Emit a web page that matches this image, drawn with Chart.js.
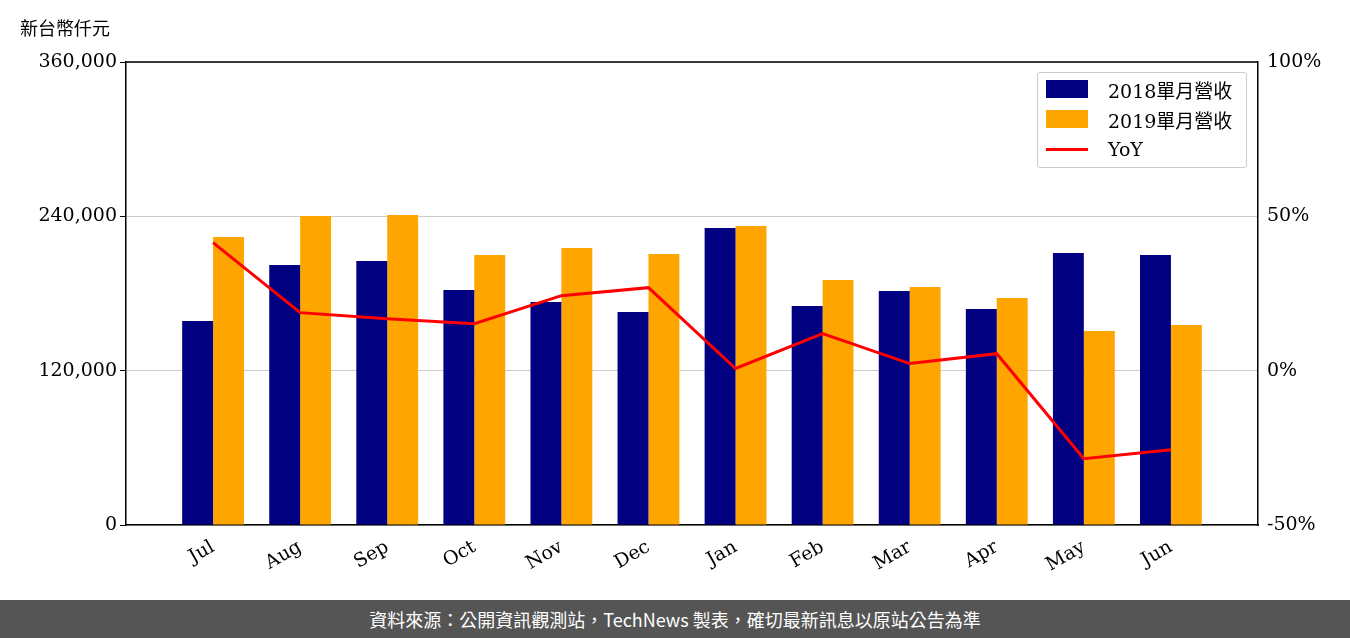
<!DOCTYPE html>
<html><head><meta charset="utf-8">
<script src="https://cdn.jsdelivr.net/npm/chart.js@4/dist/chart.umd.min.js"></script>
<style>
body{margin:0;width:1350px;height:638px;background:#fff;position:relative;overflow:hidden;font-family:"Noto Sans CJK TC",sans-serif}
#wrap{position:absolute;left:0;top:0;width:1350px;height:600px}
#unit{position:absolute;left:20px;top:14px;font-size:18px;color:#000}
#foot{position:absolute;left:0;top:600px;width:1350px;height:38px;background:#555;color:#fff;font-size:18px;text-align:center;line-height:38px}
#legend{position:absolute;left:1037px;top:72px;width:208px;height:94px;border:1px solid #ccc;border-radius:3px;background:rgba(255,255,255,0.85);font-family:"DejaVu Serif","Noto Sans CJK TC";font-size:19px}
.li{position:absolute;left:8px;height:20px;display:flex;align-items:center}
.sw{width:42px;height:18px;margin-right:20px}
</style></head><body>
<div id="wrap"><canvas id="c" width="1350" height="600"></canvas></div>
<div id="unit">新台幣仟元</div>
<div id="legend">
<div class="li" style="top:6px"><div class="sw" style="background:#000080"></div>2018單月營收</div>
<div class="li" style="top:36px"><div class="sw" style="background:#FFA500"></div>2019單月營收</div>
<div class="li" style="top:66px"><div class="sw" style="height:3px;background:#f00"></div>YoY</div>
</div>
<div id="foot">資料來源：公開資訊觀測站，TechNews 製表，確切最新訊息以原站公告為準</div>
<script>
const months=["Jul","Aug","Sep","Oct","Nov","Dec","Jan","Feb","Mar","Apr","May","Jun"];
const rev2018=[158600,202150,205260,182700,173400,165600,230900,170300,181900,167900,211500,209900];
const rev2019=[223900,240200,241000,209900,215400,210700,232500,190500,185000,176500,150800,155500];
const yoy=[41.5,18.8,16.8,15.2,24.3,26.9,0.7,12,2.3,5.5,-28.5,-25.6];
const leftTicks=[0,120000,240000,360000];
const rightTicks=[-50,0,50,100];
const pad=a=>[null,...a,null];
const f={family:"DejaVu Serif",size:19};
new Chart(document.getElementById('c'),{
 data:{labels:['',...months,''],datasets:[
  {type:'line',data:pad(yoy),yAxisID:'y1',borderColor:'#f00',borderWidth:3,pointRadius:0,order:0},
  {type:'bar',data:pad(rev2018),backgroundColor:'#000080',yAxisID:'y',categoryPercentage:0.71,barPercentage:1,order:1},
  {type:'bar',data:pad(rev2019),backgroundColor:'#FFA500',yAxisID:'y',categoryPercentage:0.71,barPercentage:1,order:1}
 ]},
 options:{responsive:false,animation:false,layout:{padding:{top:62,left:0,right:0,bottom:0}},
  plugins:{legend:{display:false},tooltip:{enabled:false}},
  scales:{
   x:{offset:false,grid:{display:false},border:{color:'#000',width:1.5},ticks:{color:'#000',font:f,maxRotation:30,minRotation:30,autoSkip:false},afterFit(s){s.height=75}},
   y:{position:'left',min:0,max:360000,afterBuildTicks(s){s.ticks=leftTicks.map(v=>({value:v}))},
      ticks:{color:'#000',font:f,callback:v=>v.toLocaleString('en-US')},grid:{color:'#ccc',tickColor:'#000',tickLength:6},border:{color:'#000',width:1.5},afterFit(s){s.width=126}},
   y1:{position:'right',min:-50,max:100,afterBuildTicks(s){s.ticks=rightTicks.map(v=>({value:v}))},
      ticks:{color:'#000',font:f,callback:v=>v+'%'},grid:{display:false,tickColor:'#000',tickLength:6},border:{color:'#000',width:1.5},afterFit(s){s.width=92}}
  }},
 plugins:[{id:'topb',afterDraw(c){const a=c.chartArea,x=c.ctx;x.save();x.strokeStyle='#000';x.lineWidth=1.5;x.beginPath();x.moveTo(a.left,a.top);x.lineTo(a.right,a.top);x.stroke();x.restore();}}]
});
</script>
</body></html>
